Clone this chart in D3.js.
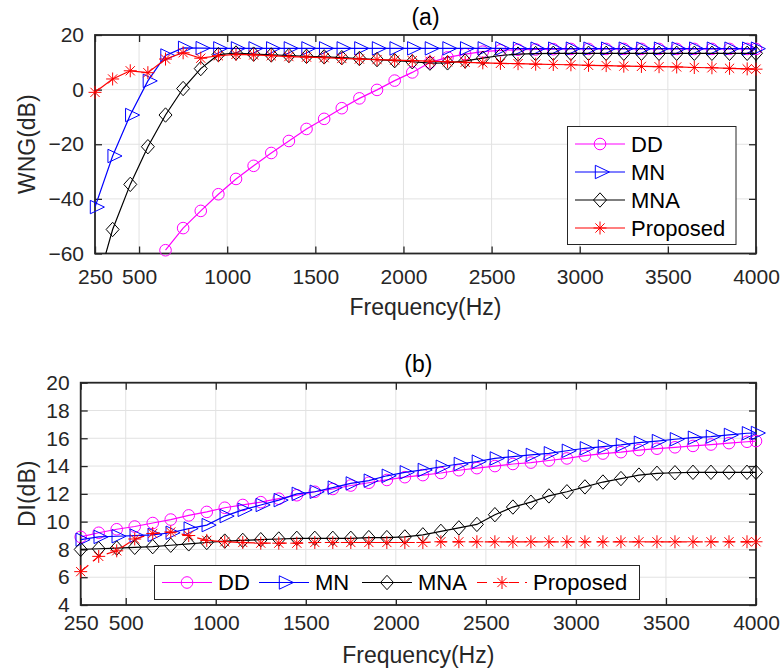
<!DOCTYPE html>
<html>
<head>
<meta charset="utf-8">
<script src="https://cdn.jsdelivr.net/npm/d3@7"></script>
<style>
  body { margin: 0; background: #fff; }
</style>
</head>
<body>
<svg id="chart" width="783" height="672"></svg>
<script>
// frequency grid (Hz)
var freqs = [250, 350, 450, 550, 650, 750, 850, 950, 1050, 1150, 1250, 1350, 1450, 1550, 1650, 1750, 1850, 1950,
  2050, 2150, 2250, 2350, 2450, 2550, 2650, 2750, 2850, 2950, 3050, 3150, 3250, 3350, 3450, 3550, 3650, 3750, 3850, 3950, 4000];

// (a) WNG in dB
var wngDD = [null, null, null, null, -58.8, -50.7, -44.4, -38.3, -32.7, -27.9, -23.2, -18.8, -14.4, -10.7, -6.8, -3.2, -0.1, 3.3,
  6.3, 9.9, 11.8, 13.0, 13.9, 14.4, 14.6, 14.7, 14.8, 14.9, 14.9, 14.9, 14.9, 14.9, 14.9, 14.9, 14.9, 14.9, 14.9, 14.9, 14.9];
var wngMN = [-43, -24.3, -9.3, 3.2, 12.5, 15.3, 15.2, 15.1, 15.1, 15.1, 15.1, 15.1, 15.1, 15.1, 15.1, 15.1, 15.1, 15.1,
  15.1, 15.1, 15.1, 15.1, 15.1, 15.1, 15.0, 15.0, 15.0, 15.0, 15.0, 15.0, 15.0, 15.0, 15.0, 15.0, 15.0, 15.0, 15.0, 15.0, 15.0];
var wngMNA = [-74, -51.2, -34.7, -20.9, -9.3, 0.4, 7.7, 12.8, 13.4, 13.0, 12.7, 12.5, 12.2, 12.0, 11.7, 11.4, 11.0, 10.6,
  10.2, 9.7, 9.8, 10.5, 11.5, 12.5, 13.0, 13.2, 13.3, 13.3, 13.3, 13.3, 13.3, 13.3, 13.3, 13.3, 13.3, 13.3, 13.3, 13.3, 13.3];
var wngProposed = [-1.0, 3.9, 6.9, 6.2, 11.2, 13.5, 11.5, 12.4, 12.9, 12.7, 12.4, 12.1, 11.9, 11.7, 11.4, 11.2, 11.0, 10.8,
  10.6, 10.4, 10.2, 10.0, 9.8, 9.6, 9.5, 9.3, 9.2, 9.1, 8.9, 8.8, 8.6, 8.5, 8.4, 8.3, 8.1, 8.0, 7.8, 7.6, 7.5];

// (b) DI in dB
var diDD = [8.9, 9.2, 9.45, 9.65, 9.9, 10.15, 10.45, 10.7, 11.0, 11.2, 11.4, 11.65, 11.9, 12.15, 12.35, 12.6, 12.8, 13.0,
  13.2, 13.35, 13.5, 13.7, 13.85, 14.0, 14.15, 14.25, 14.4, 14.55, 14.75, 14.9, 15.0, 15.15, 15.25, 15.35, 15.45, 15.55, 15.65, 15.75, 15.8];
var diMN = [8.7, 8.9, 8.95, 9.0, 9.05, 9.2, 9.5, 9.75, 10.4, 10.85, 11.2, 11.55, 12.0, 12.15, 12.45, 12.75, 12.95, 13.3,
  13.55, 13.72, 13.95, 14.15, 14.32, 14.55, 14.68, 14.8, 14.92, 15.1, 15.28, 15.4, 15.52, 15.68, 15.8, 15.93, 16.04, 16.12, 16.24, 16.36, 16.38];
var diMNA = [8.0, 8.05, 8.1, 8.15, 8.2, 8.3, 8.4, 8.5, 8.6, 8.65, 8.7, 8.75, 8.8, 8.8, 8.8, 8.8, 8.85, 8.85,
  8.9, 9.05, 9.3, 9.55, 9.8, 10.5, 11.05, 11.4, 11.85, 12.15, 12.5, 12.85, 13.1, 13.35, 13.48, 13.52, 13.55, 13.55, 13.55, 13.55, 13.55];
var diProposed = [6.4, 7.5, 7.9, 8.75, 9.15, 9.25, 9.0, 8.65, 8.55, 8.5, 8.45, 8.45, 8.45, 8.5, 8.5, 8.5, 8.5, 8.5,
  8.5, 8.5, 8.55, 8.55, 8.55, 8.55, 8.55, 8.55, 8.55, 8.55, 8.55, 8.55, 8.55, 8.55, 8.55, 8.55, 8.55, 8.55, 8.55, 8.55, 8.55];

var xTicks = [250, 500, 1000, 1500, 2000, 2500, 3000, 3500, 4000];
var wngTicks = [-60, -40, -20, 0, 20];
var diTicks = [4, 6, 8, 10, 12, 14, 16, 18, 20];

var seriesNames = ["DD", "MN", "MNA", "Proposed"];
var seriesColors = ["#ff00ff", "#0000ff", "#000000", "#ff0000"];
var seriesMarkers = ["circle", "triangle", "diamond", "star"];

var FONT = "'Liberation Sans', Arial, Helvetica, sans-serif";
var svg = d3.select("#chart");

// marker shapes, MATLAB style
var markerPaths = {
  triangle: "M-4.7,-6.7L-4.7,6.7L9.4,0Z",
  diamond: "M0,-7.2L6.5,0L0,7.2L-6.5,0Z",
  star: "M-6.5,0H6.5M0,-6.5V6.5M-4.6,-4.6L4.6,4.6M-4.6,4.6L4.6,-4.6"
};

function drawMarker(sel, type, color) {
  if (type === "circle") {
    sel.append("circle").attr("r", 5.8).attr("fill", "none").attr("stroke", color).attr("stroke-width", 1);
  } else {
    sel.append("path").attr("d", markerPaths[type]).attr("fill", "none").attr("stroke", color).attr("stroke-width", 1);
  }
}

function drawPanel(p, idx) {
  var x = d3.scaleLinear().domain([250, 4000]).range([p.left, p.right]);
  var y = d3.scaleLinear().domain(p.yDomain).range([p.bottom, p.top]);
  var g = svg.append("g");

  // grid
  g.append("g").selectAll("line").data(xTicks).join("line")
    .attr("x1", d => x(d)).attr("x2", d => x(d))
    .attr("y1", p.top).attr("y2", p.bottom)
    .attr("stroke", "#e2e2e2").attr("stroke-width", 1);
  g.append("g").selectAll("line").data(p.yTicks).join("line")
    .attr("y1", d => y(d)).attr("y2", d => y(d))
    .attr("x1", p.left).attr("x2", p.right)
    .attr("stroke", "#e2e2e2").attr("stroke-width", 1);

  // axes: ticks pointing inward, labels on bottom/left only
  var axB = g.append("g").attr("transform", "translate(0," + p.bottom + ")")
    .call(d3.axisBottom(x).tickValues(xTicks).tickSizeInner(-7).tickSizeOuter(0)
      .tickPadding(p.xPad).tickFormat(d3.format("d")));
  var axT = g.append("g").attr("transform", "translate(0," + p.top + ")")
    .call(d3.axisTop(x).tickValues(xTicks).tickSizeInner(-7).tickSizeOuter(0).tickFormat(""));
  var axL = g.append("g").attr("transform", "translate(" + p.left + ",0)")
    .call(d3.axisLeft(y).tickValues(p.yTicks).tickSizeInner(-7).tickSizeOuter(0)
      .tickPadding(p.yPad).tickFormat(d3.format("d")));
  var axR = g.append("g").attr("transform", "translate(" + p.right + ",0)")
    .call(d3.axisRight(y).tickValues(p.yTicks).tickSizeInner(-7).tickSizeOuter(0).tickFormat(""));

  [axB, axT, axL, axR].forEach(function(a) {
    a.select(".domain").remove();
    a.attr("font-family", FONT).attr("font-size", 21);
    a.selectAll("line").attr("stroke", "#262626").attr("stroke-width", 1.3);
    a.selectAll("text").attr("fill", "#262626");
  });

  g.append("rect")
    .attr("x", p.left).attr("y", p.top)
    .attr("width", p.right - p.left).attr("height", p.bottom - p.top)
    .attr("fill", "none").attr("stroke", "#262626").attr("stroke-width", 1.8);

  // labels
  g.append("text").attr("x", (p.left + p.right) / 2).attr("y", p.titleY)
    .attr("text-anchor", "middle").attr("font-family", FONT).attr("font-size", 23)
    .attr("fill", "#000").text(p.title);
  g.append("text").attr("x", (p.left + p.right) / 2).attr("y", p.xLabelY)
    .attr("text-anchor", "middle").attr("font-family", FONT).attr("font-size", 23)
    .attr("fill", "#262626").text("Frequency(Hz)");
  g.append("text")
    .attr("transform", "translate(35," + ((p.top + p.bottom) / 2) + ") rotate(-90)")
    .attr("text-anchor", "middle").attr("font-family", FONT).attr("font-size", 23)
    .attr("fill", "#262626").text(p.yLabel);

  // clip for lines
  var clipId = "clip" + idx;
  svg.append("clipPath").attr("id", clipId).append("rect")
    .attr("x", p.left).attr("y", p.top)
    .attr("width", p.right - p.left).attr("height", p.bottom - p.top);

  var line = d3.line()
    .defined(d => d.v !== null)
    .x(d => x(d.f)).y(d => y(d.v));

  p.series.forEach(function(vals, i) {
    var pts = freqs.map(function(f, k) { return { f: f, v: vals[k] }; });
    g.append("path").datum(pts)
      .attr("clip-path", "url(#" + clipId + ")")
      .attr("fill", "none").attr("stroke", seriesColors[i]).attr("stroke-width", 1.2)
      .attr("stroke-dasharray", p.dashed[i] ? "10,6" : null)
      .attr("d", line);
    var inside = pts.filter(d => d.v !== null && d.v >= p.yDomain[0] && d.v <= p.yDomain[1]);
    g.append("g").selectAll("g").data(inside).join("g")
      .attr("transform", d => "translate(" + x(d.f) + "," + y(d.v) + ")")
      .each(function() { drawMarker(d3.select(this), seriesMarkers[i], seriesColors[i]); });
  });

  // legend
  var lg = g.append("g");
  lg.append("rect")
    .attr("x", p.legend.box[0]).attr("y", p.legend.box[1])
    .attr("width", p.legend.box[2] - p.legend.box[0]).attr("height", p.legend.box[3] - p.legend.box[1])
    .attr("fill", "#fff").attr("stroke", "#262626").attr("stroke-width", 1);
  seriesNames.forEach(function(name, i) {
    var it = p.legend.items[i];
    lg.append("line")
      .attr("x1", it[0]).attr("x2", it[0] + 50).attr("y1", it[1]).attr("y2", it[1])
      .attr("stroke", seriesColors[i]).attr("stroke-width", 1.2)
      .attr("stroke-dasharray", p.dashed[i] ? "10,6" : null);
    var m = lg.append("g").attr("transform", "translate(" + (it[0] + 25) + "," + it[1] + ")");
    drawMarker(m, seriesMarkers[i], seriesColors[i]);
    lg.append("text")
      .attr("x", it[0] + 56).attr("y", it[1]).attr("dy", "0.36em")
      .attr("font-family", FONT).attr("font-size", 22).attr("fill", "#000")
      .text(name);
  });
}

drawPanel({
  left: 95, right: 756, top: 35, bottom: 253.5,
  yDomain: [-60, 20], yTicks: wngTicks,
  xPad: 16, yPad: 11,
  title: "(a)", titleY: 25, xLabelY: 315, yLabel: "WNG(dB)",
  series: [wngDD, wngMN, wngMNA, wngProposed],
  dashed: [false, false, false, false],
  legend: {
    box: [567.5, 126.5, 736, 244.5],
    items: [[575, 144], [575, 172], [575, 200], [575, 228]]
  }
}, 0);

drawPanel({
  left: 80.7, right: 756, top: 382.7, bottom: 605,
  yDomain: [4, 20], yTicks: diTicks,
  xPad: 10, yPad: 11,
  title: "(b)", titleY: 372, xLabelY: 663, yLabel: "DI(dB)",
  series: [diDD, diMN, diMNA, diProposed],
  dashed: [false, false, false, true],
  legend: {
    box: [154.5, 565.5, 639.5, 599.5],
    items: [[162, 582.5], [259, 582.5], [362, 582.5], [477, 582.5]]
  }
}, 1);
</script>
</body>
</html>
